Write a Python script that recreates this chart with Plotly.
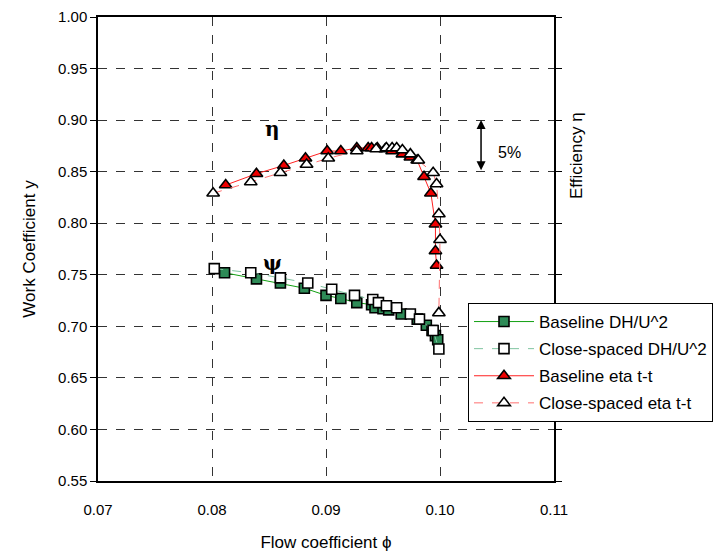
import plotly.graph_objects as go

# Baseline work coefficient (DH/U^2)
base_psi_x = [0.0811, 0.0839, 0.0860, 0.0881, 0.0900, 0.0913, 0.0927, 0.0940, 0.0943, 0.0950,
              0.0955, 0.0966, 0.0980, 0.0988, 0.0993, 0.0996, 0.0998]
base_psi_y = [0.752, 0.746, 0.742, 0.737, 0.730, 0.727, 0.723, 0.721, 0.718, 0.717,
              0.716, 0.712, 0.707, 0.701, 0.696, 0.691, 0.687]

# Close-spaced work coefficient
cs_psi_x = [0.0802, 0.0834, 0.0860, 0.0884, 0.0905, 0.0925, 0.0941, 0.0946, 0.0953, 0.0962,
            0.0974, 0.0982, 0.0994, 0.0999]
cs_psi_y = [0.756, 0.752, 0.747, 0.742, 0.736, 0.730, 0.726, 0.723, 0.720, 0.718,
            0.712, 0.707, 0.696, 0.678]

# Baseline efficiency eta t-t
base_eta_x = [0.0812, 0.0839, 0.0863, 0.0882, 0.0901, 0.0913, 0.0927, 0.0937, 0.0940, 0.0945,
              0.0952, 0.0958, 0.0967, 0.0974, 0.0980, 0.0986, 0.0992, 0.0996, 0.0996, 0.0997]
base_eta_y = [0.837, 0.848, 0.856, 0.863, 0.870, 0.870, 0.873, 0.873, 0.873, 0.873,
              0.872, 0.870, 0.867, 0.864, 0.861, 0.845, 0.829, 0.799, 0.773, 0.759]

# Close-spaced efficiency eta t-t
cs_eta_x = [0.0801, 0.0834, 0.0860, 0.0883, 0.0902, 0.0927, 0.0944, 0.0953, 0.0958, 0.0962,
            0.0967, 0.0974, 0.0981, 0.0994, 0.0997, 0.0999, 0.1000, 0.0999]
cs_eta_y = [0.829, 0.840, 0.849, 0.857, 0.863, 0.870, 0.872, 0.873, 0.873, 0.873,
            0.871, 0.867, 0.861, 0.849, 0.838, 0.809, 0.784, 0.713]

x_ticks = [0.07, 0.08, 0.09, 0.10, 0.11]
x_tick_labels = ["0.07", "0.08", "0.09", "0.10", "0.11"]
y_ticks = [0.55, 0.60, 0.65, 0.70, 0.75, 0.80, 0.85, 0.90, 0.95, 1.00]
y_tick_labels = ["0.55", "0.60", "0.65", "0.70", "0.75", "0.80", "0.85", "0.90", "0.95", "1.00"]

FONT = "Arial, 'Liberation Sans', sans-serif"
OFF = 8  # default page body margin
L, R, T, B = 98, 554, 17, 481  # target plot-area edges on the page
PW, PH = R - L, B - T

fig = go.Figure()
fig.add_trace(go.Scatter(
    x=base_psi_x, y=base_psi_y, mode="lines+markers", name="Baseline DH/U^2",
    legendgroup="a",
    line=dict(color="#12a012", width=1),
    marker=dict(symbol="square", size=10, color="#2e8b57", line=dict(color="black", width=1.6))))
fig.add_trace(go.Scatter(
    x=cs_psi_x, y=cs_psi_y, mode="lines+markers", name="Close-spaced DH/U^2",
    legendgroup="b",
    line=dict(color="#7fc4a0", width=1, dash="dash"),
    marker=dict(symbol="square", size=10, color="white", line=dict(color="black", width=1.6))))
fig.add_trace(go.Scatter(
    x=base_eta_x, y=base_eta_y, mode="lines+markers", name="Baseline eta t-t",
    legendgroup="c",
    line=dict(color="#ff2020", width=1),
    marker=dict(symbol="triangle-up", size=11, color="#ee0000", line=dict(color="black", width=1.6))))
fig.add_trace(go.Scatter(
    x=cs_eta_x, y=cs_eta_y, mode="lines+markers", name="Close-spaced eta t-t",
    legendgroup="d",
    line=dict(color="#ff7070", width=1, dash="dash"),
    marker=dict(symbol="triangle-up", size=11, color="white", line=dict(color="black", width=1.6))))

# 5% arrow
fig.add_annotation(x=0.1036, y=0.90, ax=0.1036, ay=0.85, xref="x", yref="y", axref="x", ayref="y",
                   text="", showarrow=True, arrowhead=2, arrowside="end+start",
                   arrowsize=1.2, arrowwidth=1.5, arrowcolor="black")
fig.add_annotation(x=0.1061, y=0.869, xref="x", yref="y", text="5%", showarrow=False,
                   font=dict(family=FONT, size=16, color="black"))
fig.add_annotation(x=0.0853, y=0.891, xref="x", yref="y", text="<b>η</b>", showarrow=False,
                   font=dict(family="DejaVu Serif, serif", size=20, color="black"))
fig.add_annotation(x=0.0853, y=0.761, xref="x", yref="y", text="<b>ψ</b>", showarrow=False,
                   font=dict(family="DejaVu Serif, serif", size=20, color="black"))
# right axis title
fig.add_annotation(x=(588 - L) / PW, y=(B - 110) / PH, xref="paper", yref="paper",
                   text="Efficiency η", showarrow=False, textangle=-90,
                   font=dict(family=FONT, size=17, color="black"))

fig.update_layout(
    width=725, height=557,
    margin=dict(l=L - OFF, r=725 - (R - OFF), t=T - OFF, b=557 - (B - OFF), autoexpand=False),
    paper_bgcolor="white", plot_bgcolor="white",
    font=dict(family=FONT, size=14, color="black"),
    showlegend=True,
    legend=dict(x=(468 - L) / PW, y=(B - 303) / PH, xanchor="left", yanchor="top",
                bgcolor="white", bordercolor="black", borderwidth=1,
                font=dict(family=FONT, size=17, color="black"),
                itemwidth=60, tracegroupgap=2),
    xaxis=dict(range=[0.07, 0.11], tickvals=x_ticks, ticktext=x_tick_labels,
               showgrid=True, gridcolor="#333333", griddash="dash", gridwidth=1,
               showline=True, linecolor="black", linewidth=1.5, mirror=True,
               ticks="", zeroline=False, automargin=False,
               ticklabelstandoff=14, ticklabeloverflow="allow",
               title=dict(text="Flow coefficient ϕ", font=dict(size=17), standoff=19),
               tickfont=dict(size=15)),
    yaxis=dict(range=[0.55, 1.00], tickvals=y_ticks, ticktext=y_tick_labels,
               showgrid=True, gridcolor="#333333", griddash="dash", gridwidth=1,
               showline=True, linecolor="black", linewidth=1.5, mirror="allticks",
               ticks="outside", ticklen=6, tickcolor="black", zeroline=False, automargin=False,
               ticklabeloverflow="allow",
               title=dict(text="Work Coefficient y", font=dict(size=17), standoff=18),
               tickfont=dict(size=15)),
)

fig.write_html("out.html")
